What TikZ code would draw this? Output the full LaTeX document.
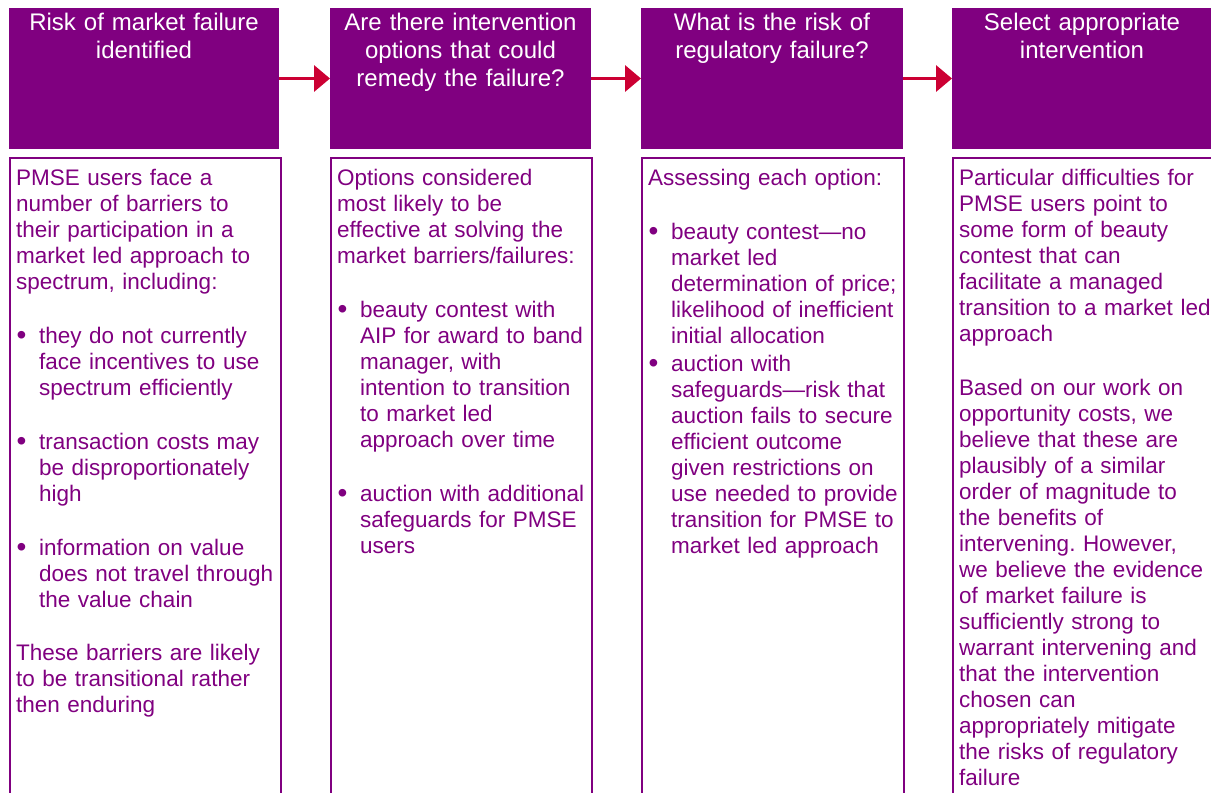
\documentclass[tikz,border=0pt]{standalone}
\usepackage{fontspec}
\setmainfont{Liberation Sans}
\usetikzlibrary{arrows.meta}
\definecolor{pmpurple}{RGB}{128,0,128}
\definecolor{arrred}{RGB}{204,0,51}
\frenchspacing
\newcommand{\bul}{\par\hangindent=23pt\hangafter=1\noindent\makebox[23pt][l]{\hspace{0.5pt}\raisebox{-1.2pt}{\fontsize{28}{26}\selectfont\textbullet}}}
\newcommand{\pgap}[1][28pt]{\par\vspace{#1}}
\begin{document}
\begin{tikzpicture}[x=1pt,y=-1pt,
 headbox/.style={fill=pmpurple, draw=none, minimum height=141pt, anchor=north west, inner sep=0pt, outer sep=0pt},
 headtext/.style={text=white, font=\fontsize{24}{28}\selectfont, align=center, text width=260pt, anchor=base, inner sep=0pt},
 bodybox/.style={draw=pmpurple, line width=2pt, anchor=north west, minimum height=660pt, inner sep=0pt},
 bodytext/.style={text=pmpurple, font=\fontsize{22.5}{26}\selectfont\frenchspacing, text width=300pt, align=left, anchor=base west, inner sep=0pt},
 flow/.style={draw=arrred, line width=3.5pt, -{Triangle[length=16pt,width=26pt]}}]
\useasboundingbox (0,0) rectangle (1211,793);
\clip (0,0) rectangle (1211,793);
% headers
\node[headbox, minimum width=270pt] (h1) at (9,8) {};
\node[headbox, minimum width=261pt] (h2) at (330,8) {};
\node[headbox, minimum width=262pt] (h3) at (641,8) {};
\node[headbox, minimum width=264pt] (h4) at (952,8) {};
\node[headtext] (ht1) at (144,30) {Risk of market failure\\identified};
\node[headtext] (ht2) at (460.5,30) {Are there intervention\\options that could\\remedy the failure?};
\node[headtext] (ht3) at (772,30) {What is the risk of\\regulatory failure?};
\node[headtext] (ht4) at (1082,30) {Select appropriate\\intervention};
% arrows
\draw[flow] (h1.east) -- (h2.west);
\draw[flow] (h2.east) -- (h3.west);
\draw[flow] (h3.east) -- (h4.west);
% body boxes
\node[bodybox, minimum width=271pt] (b1) at (9,157) {};
\node[bodybox, minimum width=261pt] (b2) at (330,157) {};
\node[bodybox, minimum width=262pt] (b3) at (641,157) {};
\node[bodybox, minimum width=272pt] (b4) at (952,157) {};
% body texts
\node[bodytext] (t1) at (16,185) {PMSE users face a\newline number of barriers to\newline their participation in a\newline market led approach to\newline spectrum, including:
\pgap
\bul they do not currently\newline face incentives to use\newline spectrum efficiently
\pgap
\bul transaction costs may\newline be disproportionately\newline high
\pgap
\bul information on value\newline does not travel through\newline the value chain
\pgap[27pt]
\noindent These barriers are likely\newline to be transitional rather\newline then enduring\par};
\node[bodytext] (t2) at (337,185) {Options considered\newline most likely to be\newline effective at solving the\newline market barriers/failures:
\pgap
\bul beauty contest with\newline AIP for award to band\newline manager, with\newline intention to transition\newline to market led\newline approach over time
\pgap
\bul auction with additional\newline safeguards for PMSE\newline users\par};
\node[bodytext] (t3) at (648,185) {Assessing each option:
\pgap
\bul beauty contest—no\newline market led\newline determination of price;\newline likelihood of inefficient\newline initial allocation
\pgap[2pt]
\bul auction with\newline safeguards—risk that\newline auction fails to secure\newline efficient outcome\newline given restrictions on\newline use needed to provide\newline transition for PMSE to\newline market led approach\par};
\node[bodytext] (t4) at (959,185) {Particular difficulties for\newline PMSE users point to\newline some form of beauty\newline contest that can\newline facilitate a managed\newline transition to a market led\newline approach
\pgap
\noindent Based on our work on\newline opportunity costs, we\newline believe that these are\newline plausibly of a similar\newline order of magnitude to\newline the benefits of\newline intervening. However,\newline we believe the evidence\newline of market failure is\newline sufficiently strong to\newline warrant intervening and\newline that the intervention\newline chosen can\newline appropriately mitigate\newline the risks of regulatory\newline failure\par};
\end{tikzpicture}
\end{document}
